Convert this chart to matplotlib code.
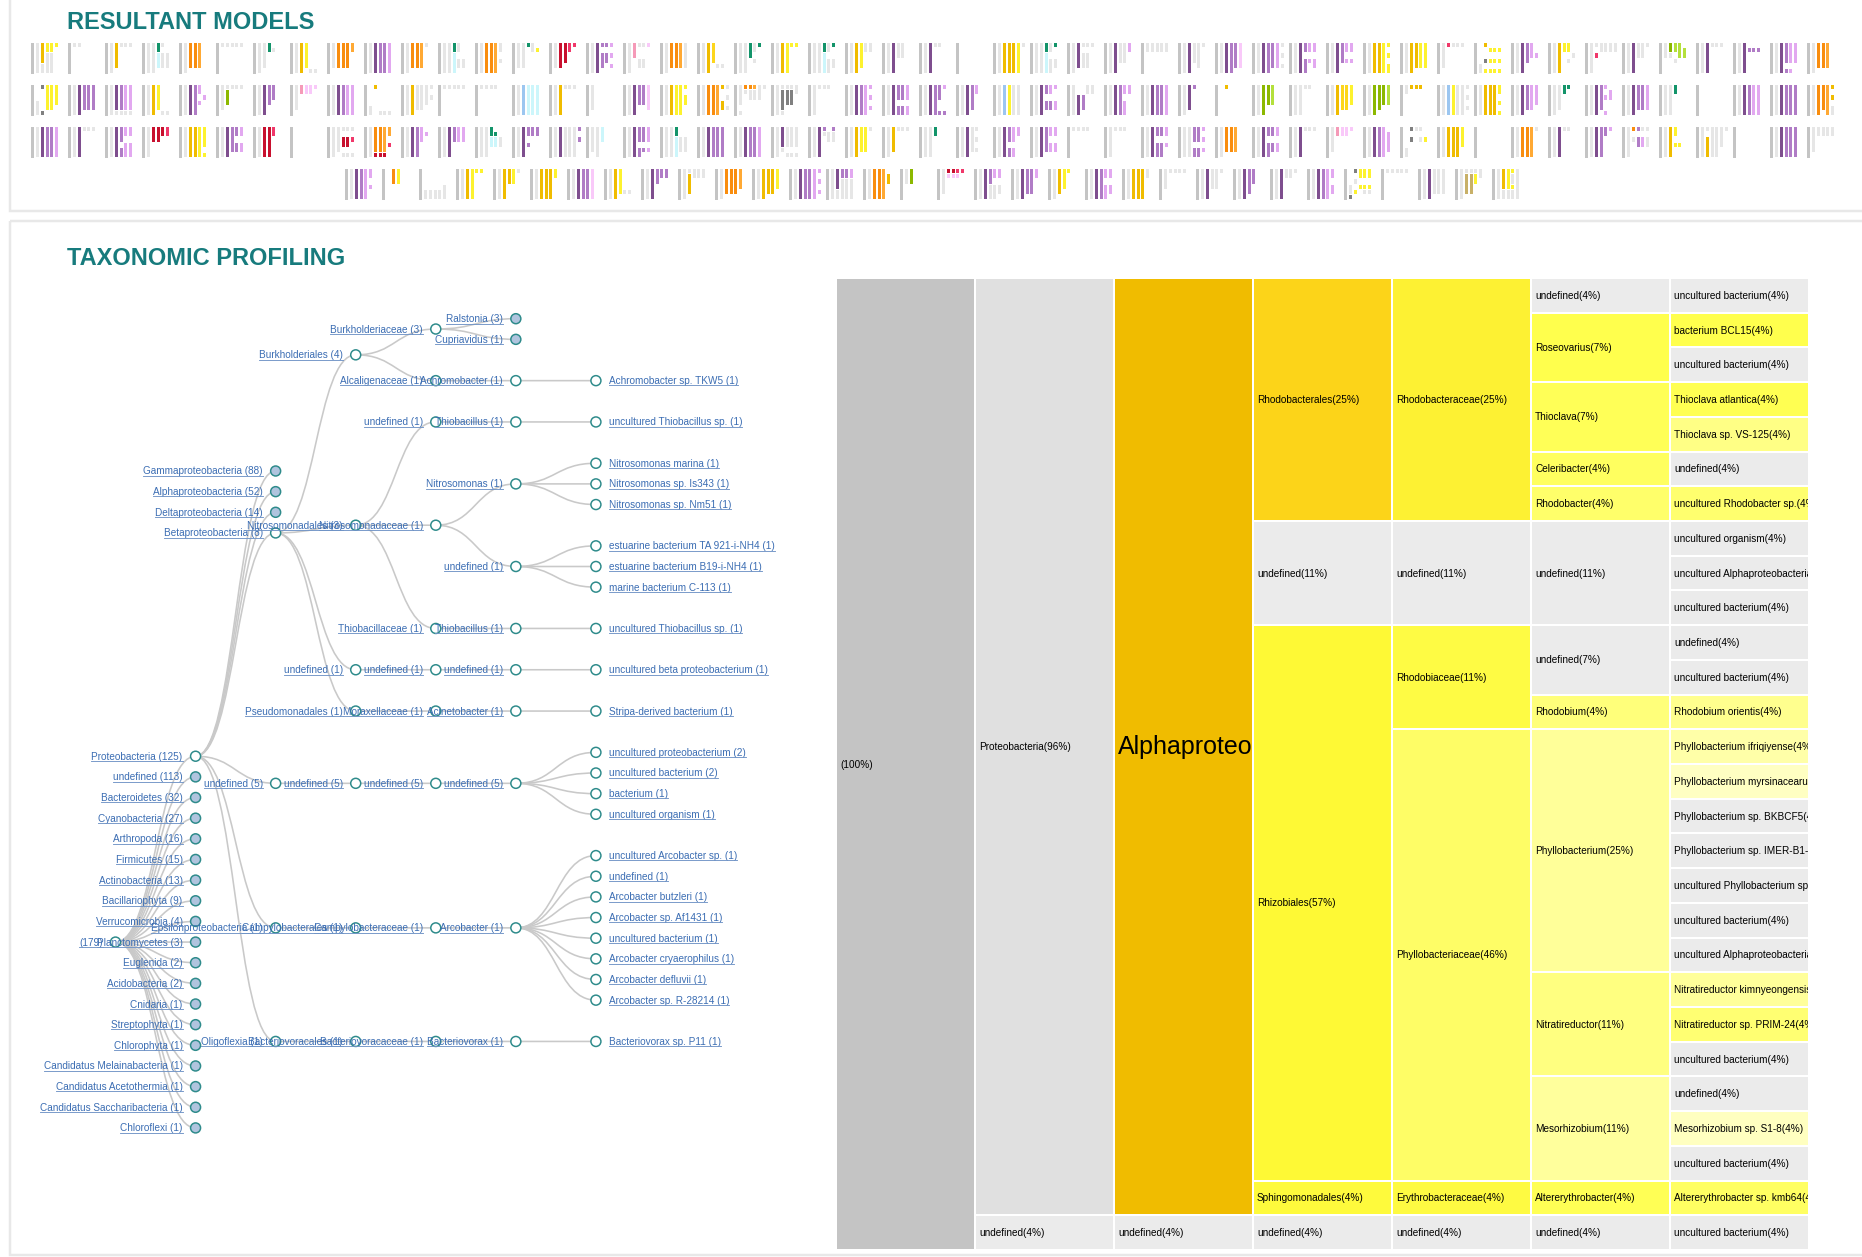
import matplotlib
matplotlib.use("Agg")
import matplotlib.pyplot as plt
from matplotlib.patches import Rectangle, Circle, PathPatch
from matplotlib.path import Path
from matplotlib.collections import PatchCollection

plt.rcParams['font.family'] = ['Liberation Sans', 'DejaVu Sans']

# ---------------- data ----------------
TITLE_TOP = "RESULTANT MODELS"
TITLE_BOTTOM = "TAXONOMIC PROFILING"

# model glyphs: 6 columns after the root column, 6 slots each (top -> bottom)
MODELS_ROW1 = [
    "llllll ooooll yyllll yyllll y..... ......", "l..... l..... ...... ...... ...... ......",
    "llllll ooooo. l..... l..... l..... ......", "llllll llllll nnccc. l.lll. ..lll. ......",
    "llllll OOOOO. OOOOO. aaaaa. ...... ......", "l..... l..... l..... l..... l..... ......",
    "llllll lllll. nn.... .l.... ...... ......", "llllll oooooo yyyyy. .....l .....l ......",
    "lllll. OOOOO. OOOOO. OOOOO. aa.... ......", "llllll pppppp mmmmmm mmmmmm vvvvvv ......",
    "llllll OOOOO. OOOOO. aaaaa. l..... ......", "llllll llllll nncccc ll.ll. ...ll. ......",
    "llllll OOOOOO OOOOOO aaaaaa ll.l.. ......", "lllll. lllll. n..... ll.... .y.... ......",
    "lllll. rrrrr. rrrr.. RR.... R..... ......", "llllll pppppp m.mmm. m.mm.. v.v.v. ......",
    "llllll PPP... l..ll. l..ll. k..... ......", "llllll OOOOO. OOOOO. aaaaa. lllll. ......",
    "llllll oooooo YYYY.. ....l. ....l. ......", "llllll llllll nnn... ll.l.. n..... ......",
    "llllll oooooo yyyyyy y..... y..... ......", "llllll llllll nncccc ll.lll n..ll. ......",
    "llllll oooooo yyyyy. ll.... ll.... ......", "llllll pppppp lll... lll... ...... ......",
    "llllll pppppp l..... l..... ...... ......", "...... ...... ...... ...... ...... ......",
    "llllll oooooo oooooo oooooo yyyyyy l.....", "llllll llllll nncccc ll.lll n..ll. ......",
    "llllll ppppp. l.lll. l.lll. l..... ......", "llllll pppppp llll.. llll.. vv.... ......",
    "ll.... ll.... ll.... ll.... ll.... ......", "llllll pppppp llll.. lllll. l..... ......",
    "llllll pppppp mmmmmm mmmmm. kkkkk. ......", "llllll pppppp mmmmmm mmmmm. vvvvv. l.l.l.",
    "llllll pppppp mm.mmm vv.v.. vv.vv. ......", "llllll pppppp mmmm.. vv.v.. vv.v.. ......",
    "llllll oooooo oooooo yyyyyy y.y.yy ......", "llllll oooooo ooooo. yyyyy. yyyyy. ......",
    "lllll. R..... l..... l..... l..... ......", "....ll o..d.y .y.y.y .y.y.y .y.y.y ......",
    "llllll pppppp mmmm.. vvv... ..v... ......", "llllll oooooo yy.... yy.l.. ..l... ......",
    "llllll l.R... ll.... ll.... ll.... ll....", "llllll pppppp lll... lll... l..... ......",
    "lll... LLl... MM.l.. MMM... .MM... ......", "llllll pppppp l..... l..... l..... ......",
    "llllll pppppp .m.... .m.... .m.... ......", "llllll pppppp mmmm.m vvvv.v vvvv.. ......",
    "llllll OOOOO. OOOOO. aaaaa. ...... ......",
]
MODELS_ROW2 = [
    "...lll d....d yyyyy. yyyyy. yyyy.. ......", "llllll pppppp mmmmm. mmmmm. mmmmm. ......",
    "llllll pppppl mmmmml vvvvvl vvvvvl ......", "llllll oooooo yyyyy. .....l .....l ......",
    "llllll pppppp mmmmmm vv.v.. ..v... ......", "lllll. lLLL.. l..... l..... l..... ......",
    "llllll pppppp mmmm.. mmm... ...... ......", "lllll. PP.... kk.... kk.... k..... ......",
    "llllll pppppp mmmmmm vvvvvv vvvvvv ......", "....ll o..... .....l .....l .....l ......",
    "llllll oooooo lllll. lllll. llll.. l.l...", "l..... l..... l..... l..... l..... ......",
    "l..... l..... l..... l..... ...... ......", "llllll bbbbbb cccccc cccccc cccccc ......",
    "llllll oooooo l..... l..... l..... ......", "lllll. ...... ...... ...... ...... ......",
    "llllll pppppp mmmm.. mmmm.. kkkkk. ......", "llllll oooooo yyyyyy yyyyyy y.yy.. ......",
    "llllll OOOOOO OOOOOO aaaaaa o..oo. l.l.l.", "llll.l Ol.... Oll... all... lll... l.....",
    "llllll lddddl lddd.. lddd.. ll.... ......", "llllll l..... l..... l..... ...... ......",
    "llllll pppppp mmmmmm vvvvvv v.v.v. ......", "llllll pppppp mmm.mm mmm.mm vvv.vv ......",
    "llllll pppppp mmmmmm mmm..m v....m ......", "llllll pppppp mmmmm. vv.... ...... ......",
    "llllll bbbbbb yyyyyy llllll llllll ......", "llllll pppppp mm.mm. vv.mm. v..vv. ......",
    "llllll ..pppp ..mmm. ll.... ll.... ......", "llllll pppppp mmmmmm vv.vvv vv.... ......",
    "llllll pppppp mmmmmm mmmmmm vvvvvv ......", "llllll ppppp. m..... ...... ...... ......",
    "...... o..... ...... ...... ...... ......", "llllll LLLLLL LLLL.. MMMM.. ...... ......",
    "llllll llllll l..... l..... ...... ......", "llllll oooooo YYYYY. YYYYY. yyyy.. ......",
    "llllll LLLLLL LLLLL. LLLL.. MMMM.. ......", "ll.... o..... o..... o..... ...... ......",
    "llllll bbbbbb yyyyyy llllll llllll l.l.l.", "llllll oooooo oooooo oooooo yy.y.y ......",
    "llllll pppppp mmmmm. vvvvv. vvvv.. ......", "llllll lllll. nn.... n..... ...... ......",
    "llllll pppppp mmmmm. v.v..v .vv... ......", "llllll pppppp mmmmm. mmmmm. vvvvv. ......",
    "llllll llllll nn.... ...... ...... ......", "...... ...... ...... ...... ...... ......",
    "llllll pppppp mmmmmm vvvvvv vvvvvv ......", "llllll pppppp mmmmmm mmmmmm mmmmmm ......",
    "llllll OOOOOO OOOOO. aaaaaa o.o.ll ......",
]
MODELS_ROW3 = [
    "llllll pppppp mmmmmm mmmmmm vvvvvv ......", "llllll pppppp l..... l..... l..... ......",
    "llllll pppppp mmm.mm vv.vvv vv.vvv ......", "llllll rrr... rrr... rr.... RR.... ......",
    "llllll oooooo oooooo yyyyyy yyyy.y ......", "llllll pppppp mmmmm. mm.mm. vv.vv. ......",
    "llllll rrrrrr rrrrrr RR.... ...... ......", "...... ...... ...... ...... ...... ......",
    "llllll lllll. l.rr.l l.rr.l l.R..l ......", "llllll OOOOOr OOOOOr aaaaar aa.R.. ......",
    "llllll pppppp mmmmmm vvv... .v.... ......", "llllll pppppp mmm... vvv... vvv... ......",
    "llllll llllll nncc.. .ncc.. ..ll.. ......", "llllll pppppp mm.m.. mm.... mm.... ......",
    "llllll pppppp llllll llllll llllll m.m...", "lllll. llllll ccc... ...... ...... ......",
    "llllll pppppp mmm.mm mmm.m. vvv.v. ......", "llllll llllll nncccc ..lll. ..lll. ......",
    "llllll pppppp mmmmmm mmmmmm mmmmmm ......", "llllll pppppp mmmmmm mmmmmm vvvvvv ......",
    "llllll ppppl. llll.l llll.l llll.l ......", "llllll pppppp ml.... .ll... mll... ......",
    "llllll oooooo yyyyy. yyyyy. l..... ......", "llllll ooooo. l..... l..... l..... ......",
    "llllll llllll nn.... ...... ...... ......", "llllll pppppp lllll. l.l.l. ...... ......",
    "llllll pppppp mmm.mm vvv.vv vv.... ......", "llllll pppppp mmmmm. vv.vv. vv.vv. ......",
    "l..... l..... l..... l..... ...... ......", "llllll l..... l..... l..... ...... ......",
    "llllll pppppp mm.mmm mm.mmm vv.v.. ......", "llllll llllll mmm.mm mmm.mm v.v.v. ......",
    "llllll OOOOO. OOOOO. aaaaa. ...... ......", "llllll pppppp mm.mmm mm.mm. vv.vv. ......",
    "llllll pppppp l..... l..... l..... ......", "lllll. PP.... kk.... kk.... k..... ......",
    "llllll pppppp mmmmmm vvvvvv .vvvv. ......", "....ll d.d... l..... l.l... ..y... ......",
    "llllll oooooo oooooo oooooo yyyy.. ......", "...... ...... ...... ...... ...... ......",
    "llllll OOOOOO OOOOOO aaaaaa l..... ......", "llllll pppppp l..... l..... ...... ......",
    "llllll pppppp mmmmmm mm.... v..... ......", "llllll O.l... m.mm.. l.vv.. l.ll.. ......",
    "llllll oooooo yy.y.. ...y.. ...... ......", "llllll l.oooo llllll llllll llll.. l.....",
    "...... ...... ...... ...... ...... ......", "llllll pppppp mmmmmm mmmmmm mmmmmm ......",
    "lllll. ll.... ll.... ll.... ll.... ......",
]
MODELS_ROW4 = [
    "llllll pppppp mmmmmm vvvvvv vv.v.. ......", "...... OOO... yyy... ...... ...... ......",
    "....ll ....ll ....ll ....ll ...lll ......", "llllll oooooo yyyyyy y..... y..... ......",
    "llllll oooooo ooo... yyy... l..... ......", "llllll oooooo oooooo oooooo yy.... ......",
    "llllll pppppp mmmmmm mmmmmm kkkkkk ......", "llllll oooooo yyyyy. ....l. ....l. ......",
    "llllll pppppp mmm... mm.... mm.... ......", "llllll loooo. ll.... ll.... ll.... ......",
    "llllll OOOOO. OOOOO. OOOOO. aaaa.. ......", "llllll oooooo ooooo. ooooo. yyyy.. ......",
    "llllll pppppp mmmmmm mmmmmm vvvvvv v.v.v.", "llllll ppppll mmllll mmllll vvllll ......",
    "llllll OOOOOO OOOOOO aaaaaa .oo... ......", "lll... LLL... ...... ...... ...... ......",
    "lllll. rk.... rk.... Rk.... R..... ......", "llllll pppppp mmmlll vv.lll vv.ll. ......",
    "llllll pppppp mmmmm. mmmmm. vv.... ......", "llllll ooooo. yyyy.. y..... ...... ......",
    "llllll pppppp mmmmmm vv.vvv vv.vv. ......", "llllll oooooo oooooo oooooo ll.... ......",
    "llll.. l..... l..... l..... l..... ......", "llllll pppppp llll.. llll.. l..... ......",
    "llllll pppppp mmmmm. mmm... ...... ......", "llllll pppppp ll.... ll.... l..... ......",
    "llllll pppppp mmmmmm vvvvvv vv.vv. ......", "...lld d.l.y. yy.y.. yy.yl. yy.yl. ......",
    "l..... l..... l..... l..... l..... ......", "llllll pppppp lllll. lllll. lllll. ......",
    "llllll ltttt. ltttt. lyy... ll.... ......", "llllll ooooll yyyyll yllyll llllll ......",
]

# taxonomy tree: (depth, label, collapsed)
TREE = [
    (0, "(179)", False),
    (1, "Proteobacteria (125)", False),
    (2, "Gammaproteobacteria (88)", True),
    (2, "Alphaproteobacteria (52)", True),
    (2, "Deltaproteobacteria (14)", True),
    (2, "Betaproteobacteria (8)", False),
    (3, "Burkholderiales (4)", False),
    (4, "Burkholderiaceae (3)", False),
    (5, "Ralstonia (3)", True),
    (5, "Cupriavidus (1)", True),
    (4, "Alcaligenaceae (1)", False),
    (5, "Achromobacter (1)", False),
    (6, "Achromobacter sp. TKW5 (1)", False),
    (3, "Nitrosomonadales (3)", False),
    (4, "undefined (1)", False),
    (5, "Thiobacillus (1)", False),
    (6, "uncultured Thiobacillus sp. (1)", False),
    (4, "Nitrosomonadaceae (1)", False),
    (5, "Nitrosomonas (1)", False),
    (6, "Nitrosomonas marina (1)", False),
    (6, "Nitrosomonas sp. Is343 (1)", False),
    (6, "Nitrosomonas sp. Nm51 (1)", False),
    (5, "undefined (1)", False),
    (6, "estuarine bacterium TA 921-i-NH4 (1)", False),
    (6, "estuarine bacterium B19-i-NH4 (1)", False),
    (6, "marine bacterium C-113 (1)", False),
    (4, "Thiobacillaceae (1)", False),
    (5, "Thiobacillus (1)", False),
    (6, "uncultured Thiobacillus sp. (1)", False),
    (3, "undefined (1)", False),
    (4, "undefined (1)", False),
    (5, "undefined (1)", False),
    (6, "uncultured beta proteobacterium (1)", False),
    (3, "Pseudomonadales (1)", False),
    (4, "Moraxellaceae (1)", False),
    (5, "Acinetobacter (1)", False),
    (6, "Stripa-derived bacterium (1)", False),
    (2, "undefined (5)", False),
    (3, "undefined (5)", False),
    (4, "undefined (5)", False),
    (5, "undefined (5)", False),
    (6, "uncultured proteobacterium (2)", False),
    (6, "uncultured bacterium (2)", False),
    (6, "bacterium (1)", False),
    (6, "uncultured organism (1)", False),
    (2, "Epsilonproteobacteria (1)", False),
    (3, "Campylobacterales (1)", False),
    (4, "Campylobacteraceae (1)", False),
    (5, "Arcobacter (1)", False),
    (6, "uncultured Arcobacter sp. (1)", False),
    (6, "undefined (1)", False),
    (6, "Arcobacter butzleri (1)", False),
    (6, "Arcobacter sp. Af1431 (1)", False),
    (6, "uncultured bacterium (1)", False),
    (6, "Arcobacter cryaerophilus (1)", False),
    (6, "Arcobacter defluvii (1)", False),
    (6, "Arcobacter sp. R-28214 (1)", False),
    (2, "Oligoflexia (1)", False),
    (3, "Bacteriovoracales (1)", False),
    (4, "Bacteriovoracaceae (1)", False),
    (5, "Bacteriovorax (1)", False),
    (6, "Bacteriovorax sp. P11 (1)", False),
    (1, "undefined (113)", True),
    (1, "Bacteroidetes (32)", True),
    (1, "Cyanobacteria (27)", True),
    (1, "Arthropoda (16)", True),
    (1, "Firmicutes (15)", True),
    (1, "Actinobacteria (13)", True),
    (1, "Bacillariophyta (9)", True),
    (1, "Verrucomicrobia (4)", True),
    (1, "Planctomycetes (3)", True),
    (1, "Euglenida (2)", True),
    (1, "Acidobacteria (2)", True),
    (1, "Cnidaria (1)", True),
    (1, "Streptophyta (1)", True),
    (1, "Chlorophyta (1)", True),
    (1, "Candidatus Melainabacteria (1)", True),
    (1, "Candidatus Acetothermia (1)", True),
    (1, "Candidatus Saccharibacteria (1)", True),
    (1, "Chloroflexi (1)", True),
]

# icicle: one path per sequence (phylum ... species)
A = ("Proteobacteria", "Alphaproteobacteria")
ICICLE_PATHS = [
    A + ("Rhodobacterales", "Rhodobacteraceae", "undefined", "uncultured bacterium"),
    A + ("Rhodobacterales", "Rhodobacteraceae", "Roseovarius", "bacterium BCL15"),
    A + ("Rhodobacterales", "Rhodobacteraceae", "Roseovarius", "uncultured bacterium"),
    A + ("Rhodobacterales", "Rhodobacteraceae", "Thioclava", "Thioclava atlantica"),
    A + ("Rhodobacterales", "Rhodobacteraceae", "Thioclava", "Thioclava sp. VS-125"),
    A + ("Rhodobacterales", "Rhodobacteraceae", "Celeribacter", "undefined"),
    A + ("Rhodobacterales", "Rhodobacteraceae", "Rhodobacter", "uncultured Rhodobacter sp."),
    A + ("undefined", "undefined", "undefined", "uncultured organism"),
    A + ("undefined", "undefined", "undefined", "uncultured Alphaproteobacteria bacterium"),
    A + ("undefined", "undefined", "undefined", "uncultured bacterium"),
    A + ("Rhizobiales", "Rhodobiaceae", "undefined", "undefined"),
    A + ("Rhizobiales", "Rhodobiaceae", "undefined", "uncultured bacterium"),
    A + ("Rhizobiales", "Rhodobiaceae", "Rhodobium", "Rhodobium orientis"),
    A + ("Rhizobiales", "Phyllobacteriaceae", "Phyllobacterium", "Phyllobacterium ifriqiyense"),
    A + ("Rhizobiales", "Phyllobacteriaceae", "Phyllobacterium", "Phyllobacterium myrsinacearum"),
    A + ("Rhizobiales", "Phyllobacteriaceae", "Phyllobacterium", "Phyllobacterium sp. BKBCF5"),
    A + ("Rhizobiales", "Phyllobacteriaceae", "Phyllobacterium", "Phyllobacterium sp. IMER-B1-5"),
    A + ("Rhizobiales", "Phyllobacteriaceae", "Phyllobacterium", "uncultured Phyllobacterium sp."),
    A + ("Rhizobiales", "Phyllobacteriaceae", "Phyllobacterium", "uncultured bacterium"),
    A + ("Rhizobiales", "Phyllobacteriaceae", "Phyllobacterium", "uncultured Alphaproteobacteria bacterium"),
    A + ("Rhizobiales", "Phyllobacteriaceae", "Nitratireductor", "Nitratireductor kimnyeongensis"),
    A + ("Rhizobiales", "Phyllobacteriaceae", "Nitratireductor", "Nitratireductor sp. PRIM-24"),
    A + ("Rhizobiales", "Phyllobacteriaceae", "Nitratireductor", "uncultured bacterium"),
    A + ("Rhizobiales", "Phyllobacteriaceae", "Mesorhizobium", "undefined"),
    A + ("Rhizobiales", "Phyllobacteriaceae", "Mesorhizobium", "Mesorhizobium sp. S1-8"),
    A + ("Rhizobiales", "Phyllobacteriaceae", "Mesorhizobium", "uncultured bacterium"),
    A + ("Sphingomonadales", "Erythrobacteraceae", "Altererythrobacter", "Altererythrobacter sp. kmb64"),
    ("undefined", "undefined", "undefined", "undefined", "undefined", "uncultured bacterium"),
]
FOCUS = ("Proteobacteria", "Alphaproteobacteria")  # cell shown with the large label

# ---------------- styles ----------------
GLYPH_COLORS = {
    'l': '#e6e6e6', 'o': '#f0bc00', 'Y': '#fdd61c', 'y': '#fdf22f', 'O': '#f98d0e',
    'a': '#ffa934', 'p': '#7e4e8e', 'm': '#b07cc6', 'v': '#e2a8f0', 'k': '#f9c9f9',
    'r': '#c8102e', 'R': '#f0386a', 'n': '#13946a', 'c': '#ccf6fb', 'b': '#9cc6f0',
    'L': '#8cb800', 'M': '#b4e03c', 'd': '#808080', 'P': '#f59ab8', 't': '#c8b068',
}
ICE_COLORS = {
    'Alphaproteobacteria': '#f0bc00', 'Rhodobacterales': '#fcd419', 'Rhizobiales': '#fef935',
    'Sphingomonadales': '#fefa3c', 'Rhodobacteraceae': '#fdf133', 'Rhodobiaceae': '#fefb44',
    'Phyllobacteriaceae': '#fefd66', 'Erythrobacteraceae': '#fefa42', 'Roseovarius': '#ffff4d',
    'Thioclava': '#ffff57', 'Celeribacter': '#ffff5f', 'Rhodobacter': '#ffff6a',
    'Rhodobium': '#ffff7a', 'Phyllobacterium': '#ffff99', 'Nitratireductor': '#ffff80',
    'Mesorhizobium': '#ffff9c', 'Altererythrobacter': '#ffff55', 'bacterium BCL15': '#ffff4d',
    'Thioclava atlantica': '#ffff52', 'Thioclava sp. VS-125': '#ffff85',
    'uncultured Rhodobacter sp.': '#ffff6e', 'Rhodobium orientis': '#ffff8e',
    'Phyllobacterium ifriqiyense': '#ffffa8', 'Phyllobacterium myrsinacearum': '#ffffc2',
    'Nitratireductor kimnyeongensis': '#ffff9a', 'Nitratireductor sp. PRIM-24': '#ffff72',
    'Mesorhizobium sp. S1-8': '#ffffc0', 'Altererythrobacter sp. kmb64': '#ffff62',
    'Proteobacteria': '#e0e0e0',
}
TEAL = '#177b7d'
LINK_BLUE = '#3b6db3'

W, H = 1862, 1257
fig = plt.figure(figsize=(W / 100, H / 100), dpi=100)
ax = fig.add_axes([0, 0, 1, 1])
ax.set_xlim(0, W)
ax.set_ylim(H, 0)
ax.axis('off')
PT = 0.72  # points per pixel

# panels and titles
ax.add_patch(Rectangle((9.5, -20), 1900, 230.7, fill=False, ec='#e8e8e8', lw=2.5 * PT))
ax.add_patch(Rectangle((9.5, 221), 1900, 1034, fill=False, ec='#e8e8e8', lw=2.5 * PT))
ax.text(67, 28.7, TITLE_TOP, fontsize=17, fontweight='bold', color=TEAL, va='baseline')
ax.text(67, 265, TITLE_BOTTOM, fontsize=17, fontweight='bold', color=TEAL, va='baseline')

# ---------------- model glyphs ----------------
rects, cols = [], []
rows = [(MODELS_ROW1, 31, 43), (MODELS_ROW2, 31, 85), (MODELS_ROW3, 31, 127), (MODELS_ROW4, 345, 169)]
gh, slot_h, pitch, bw = 31.0, 31.0 / 6, 4.87, 3.0
for models, x0, top in rows:
    for gi, code in enumerate(models):
        gx = x0 + gi * 37
        rects.append(Rectangle((gx, top), bw, gh))
        cols.append('#c4c4c4')
        for ci, column in enumerate(code.split()):
            cx = gx + (ci + 1) * pitch
            s = 0
            while s < len(column):
                ch = column[s]
                e = s
                while e < len(column) and column[e] == ch:
                    e += 1
                if ch != '.':
                    rects.append(Rectangle((cx, top + s * slot_h), bw, (e - s) * slot_h - 0.9))
                    cols.append(GLYPH_COLORS[ch])
                s = e
ax.add_collection(PatchCollection(rects, facecolors=cols, edgecolors='none'))

# ---------------- tree ----------------
n = len(TREE)
children = [[] for _ in range(n)]
parent = [-1] * n
stack = []
for i, (d, _, _) in enumerate(TREE):
    while stack and TREE[stack[-1]][0] >= d:
        stack.pop()
    if stack:
        parent[i] = stack[-1]
        children[stack[-1]].append(i)
    stack.append(i)

slot = [0.0] * n
state = {'pos': None, 'par': None}


def place(i):
    kids = children[i]
    if all(not children[k] for k in kids):
        for k in kids:
            if state['pos'] is None:
                state['pos'] = 0
            else:
                state['pos'] += 1 if state['par'] == i else 2
            slot[k] = state['pos']
            state['par'] = i
    else:
        for k in kids:
            if children[k]:
                place(k)
        for idx, k in enumerate(kids):
            if children[k]:
                continue
            prev = [j for j in range(idx) if children[kids[j]]]
            if prev:
                slot[k] = slot[kids[prev[-1]]] + (idx - prev[-1])
            else:
                nxt = next(j for j in range(idx + 1, len(kids)) if children[kids[j]])
                slot[k] = slot[kids[nxt]] - (nxt - idx)
    slot[i] = (slot[kids[0]] + slot[kids[-1]]) / 2


place(0)
TX0, TDX, TY0, TDY = 115.5, 80.07, 318.7, 20.65
nx = [TX0 + TREE[i][0] * TDX for i in range(n)]
ny = [TY0 + slot[i] * TDY for i in range(n)]

for i in range(1, n):
    p = parent[i]
    mx = (nx[p] + nx[i]) / 2
    path = Path([(nx[p], ny[p]), (mx, ny[p]), (mx, ny[i]), (nx[i], ny[i])],
                [Path.MOVETO, Path.CURVE4, Path.CURVE4, Path.CURVE4])
    ax.add_patch(PathPatch(path, fc='none', ec='#c9c9c9', lw=1.6 * PT, zorder=1))

labels = []
for i, (d, label, collapsed) in enumerate(TREE):
    has_kids = bool(children[i]) or collapsed
    ax.add_patch(Circle((nx[i], ny[i]), 5.0, fc='#b0c4de' if collapsed else 'white',
                        ec='#2e8b8b', lw=1.5 * PT, zorder=3))
    if has_kids:
        t = ax.text(nx[i] - 13, ny[i] + 3.5, label, ha='right', va='baseline',
                    fontsize=7.2, color=LINK_BLUE, zorder=4)
    else:
        t = ax.text(nx[i] + 13, ny[i] + 3.5, label, ha='left', va='baseline',
                    fontsize=7.2, color=LINK_BLUE, zorder=4)
    labels.append((t, ny[i] + 3.5))

fig.canvas.draw()
renderer = fig.canvas.get_renderer()
inv = ax.transData.inverted()
for t, base in labels:
    bb = t.get_window_extent(renderer)
    (x0, _), (x1, _) = inv.transform([(bb.x0, bb.y0), (bb.x1, bb.y1)])
    ax.plot([x0, x1], [base + 1.3, base + 1.3], color='#6f93c6', lw=0.9 * PT, zorder=4)

# ---------------- icicle ----------------
IX0, ICW, IY0 = 837, 139, 279
total = len(ICICLE_PATHS)
unit = (1251 - IY0) / total


def draw_cell(depth, start, count, key, label):
    name = key[-1] if key else ''
    x = IX0 + depth * ICW
    y = IY0 + start * unit
    h = count * unit - 2
    if depth == 0:
        color = '#c4c4c4'
    else:
        color = ICE_COLORS.get(name, '#ebebeb')
    r = Rectangle((x, y), ICW - 2, h, fc=color, ec='none', zorder=2)
    ax.add_patch(r)
    big = key == FOCUS
    t = ax.text(x + 3, y + h / 2 + (0 if big else 0.5), label, ha='left', va='center',
                fontsize=18 if big else 7.2, color='black', zorder=3, clip_on=True)
    t.set_clip_path(r)


draw_cell(0, 0, total, (), '(100%)')
for depth in range(1, 7):
    start = 0
    while start < total:
        key = ICICLE_PATHS[start][:depth]
        end = start
        while end < total and ICICLE_PATHS[end][:depth] == key:
            end += 1
        cnt = end - start
        pct = round(100 * cnt / total)
        draw_cell(depth, start, cnt, key, f"{key[-1]}({pct}%)")
        start = end

fig.savefig("out.png", dpi=100)
